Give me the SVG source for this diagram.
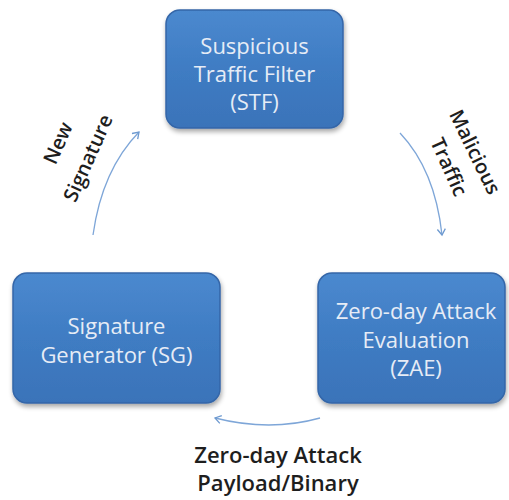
<svg xmlns="http://www.w3.org/2000/svg" width="509" height="500" viewBox="0 0 509 500">
<defs>
<linearGradient id="g" x1="0" y1="0" x2="0" y2="1">
<stop offset="0" stop-color="#4b89cf"/>
<stop offset="0.5" stop-color="#3f7cc3"/>
<stop offset="1" stop-color="#3a73b9"/>
</linearGradient>
<filter id="sh" x="-10%" y="-10%" width="125%" height="130%">
<feGaussianBlur in="SourceAlpha" stdDeviation="2.5"/>
<feOffset dx="1" dy="3"/>
<feComponentTransfer><feFuncA type="linear" slope="0.35"/></feComponentTransfer>
<feMerge><feMergeNode/><feMergeNode in="SourceGraphic"/></feMerge>
</filter>
<marker id="ah" markerWidth="10" markerHeight="10" refX="7" refY="5" orient="auto" markerUnits="userSpaceOnUse">
<path d="M1,1 L7,5 L1,9" fill="none" stroke="#6e9ad0" stroke-width="1.3"/>
</marker>
</defs>
<style>
.box{fill:url(#g);stroke:#3466a8;stroke-width:1.5;filter:url(#sh)}
.bt{font-family:"Open Sans","Liberation Sans",sans-serif;font-size:22px;fill:#e6ecf6;text-anchor:middle}
.lb{font-family:"Open Sans","Liberation Sans",sans-serif;font-size:22px;font-weight:600;fill:#1e1e1e;text-anchor:middle}
.rl{font-size:20px}
.cn{fill:none;stroke:#7ea6d8;stroke-width:1.3;marker-end:url(#ah)}
</style>
<rect width="509" height="500" fill="#fff"/>
<g id="stf">
<rect class="box" x="166" y="10" width="177" height="118" rx="14"/>
<text class="bt" x="254.5" y="54">Suspicious</text>
<text class="bt" x="254.5" y="82">Traffic Filter</text>
<text class="bt" x="254.5" y="110">(STF)</text>
</g>
<g id="zae">
<rect class="box" x="318" y="273" width="187" height="130" rx="14"/>
<text class="bt" x="416" y="319">Zero-day Attack</text>
<text class="bt" x="416" y="348">Evaluation</text>
<text class="bt" x="416" y="376">(ZAE)</text>
</g>
<g id="sg">
<rect class="box" x="13" y="273" width="207" height="130" rx="14"/>
<text class="bt" x="116.5" y="334">Signature</text>
<text class="bt" x="116.5" y="363">Generator  (SG)</text>
</g>
<g id="connectors">
<path class="cn" d="M93,235 Q102,170 139,132"/>
<path class="cn" d="M400,133 Q435,170 442,235"/>
<path class="cn" d="M320,418 Q270,432 215,418"/>
</g>
<g id="labels">
<text class="lb rl" transform="translate(58,143) rotate(-66)" y="7">New</text>
<text class="lb rl" transform="translate(88,158) rotate(-66)" y="7">Signature</text>
<text class="lb rl" transform="translate(475,152) rotate(64)" y="7">Malicious</text>
<text class="lb rl" transform="translate(449,167) rotate(66)" y="7">Traffic</text>
<text class="lb" x="278" y="463">Zero-day Attack</text>
<text class="lb" x="278" y="491">Payload/Binary</text>
</g>
</svg>
